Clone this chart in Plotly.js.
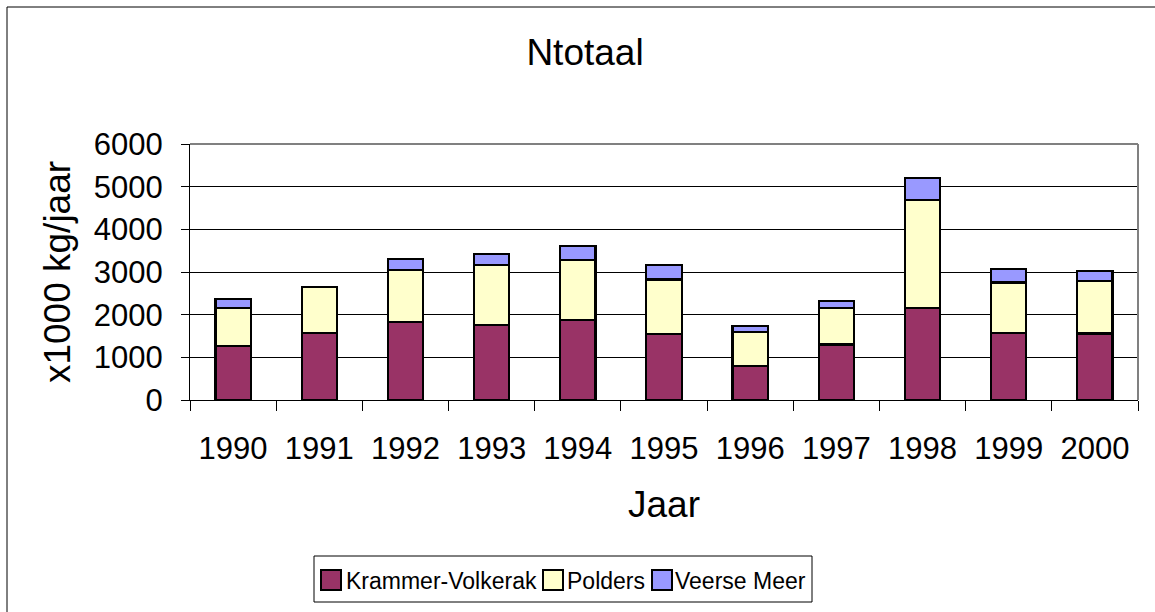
<!DOCTYPE html>
<html>
<head>
<meta charset="utf-8">
<script src="https://cdn.plot.ly/plotly-3.0.1.min.js"></script>
<style>
  html, body { margin: 0; padding: 0; background: #fff; }
  #chart { width: 1155px; height: 612px; }
</style>
</head>
<body>
<div id="chart"></div>
<script>
// Data (x1000 kg/jaar)
const years = ['1990','1991','1992','1993','1994','1995','1996','1997','1998','1999','2000'];
const krammerVolkerak = [1260, 1570, 1820, 1750, 1870, 1550, 790, 1300, 2160, 1565, 1560];
const polders        = [ 900, 1080, 1230, 1420, 1415, 1275, 805,  855, 2520, 1190, 1220];
const veerseMeer     = [ 200,    0,  260,  250,  320,  345, 140,  170,  515,  310,  235];
const seriesNames = ['Krammer-Volkerak', 'Polders', 'Veerse Meer'];
const seriesColors = ['#993366', '#FFFFCC', '#9999FF'];
const yTicks = [0, 1000, 2000, 3000, 4000, 5000, 6000];

const W = 1155, H = 612;
const mL = 190, mR = 17, mT = 144, mB = 212;
const pw = W - mL - mR, ph = H - mT - mB;
const font = 'Liberation Sans, Arial, sans-serif';

function bar(name, vals, color) {
  return {
    type: 'bar', name: name, x: years, y: vals,
    marker: { color: color, line: { color: '#000', width: 2.2 } },
    hoverinfo: 'x+y+name', showlegend: false
  };
}

const data = [
  bar(seriesNames[0], krammerVolkerak, seriesColors[0]),
  bar(seriesNames[1], polders, seriesColors[1]),
  bar(seriesNames[2], veerseMeer, seriesColors[2])
];

// paper coords helpers (pixel -> paper)
const px = v => (v - mL) / pw;
const py = v => (H - mB - v) / ph;

const shapes = [
  // plot-area frame (gray top and right)
  { type: 'line', xref: 'paper', yref: 'paper', x0: 0, x1: 1, y0: 1, y1: 1, line: { color: '#808080', width: 2 } },
  { type: 'line', xref: 'paper', yref: 'paper', x0: 1, x1: 1, y0: 0, y1: 1, line: { color: '#808080', width: 2 } },
  // outer chart frame (left and top)
  { type: 'line', xref: 'paper', yref: 'paper', x0: px(7), x1: px(W + 5), y0: py(7), y1: py(7), line: { color: '#000', width: 1 } },
  { type: 'line', xref: 'paper', yref: 'paper', x0: px(7), x1: px(7), y0: py(7), y1: py(H + 5), line: { color: '#000', width: 1 } },
  // legend box
  { type: 'rect', xref: 'paper', yref: 'paper', x0: px(314), x1: px(812), y0: py(556), y1: py(602),
    line: { color: '#000', width: 1 }, fillcolor: '#fff' }
];
const annotations = [];

// legend entries: swatch left edge and text left edge (pixels)
const legendSwatchX = [321, 543, 652];
const legendTextX = [344, 565, 673];
const legendMidY = 580;
seriesNames.forEach((n, i) => {
  shapes.push({ type: 'rect', xref: 'paper', yref: 'paper',
    x0: px(legendSwatchX[i]), x1: px(legendSwatchX[i] + 20),
    y0: py(legendMidY - 10), y1: py(legendMidY + 10),
    line: { color: '#000', width: 2 }, fillcolor: seriesColors[i] });
  annotations.push({ xref: 'paper', yref: 'paper', x: px(legendTextX[i]), y: py(legendMidY + 1),
    xanchor: 'left', yanchor: 'middle', showarrow: false, text: n,
    font: { family: font, size: 23, color: '#000' } });
});

const layout = {
  width: W, height: H,
  margin: { l: mL, r: mR, t: mT, b: mB, pad: 0 },
  paper_bgcolor: '#fff', plot_bgcolor: '#fff',
  barmode: 'stack', bargap: 0.59,
  font: { family: font, color: '#000' },
  showlegend: false,
  title: {
    text: 'Ntotaal', font: { family: font, size: 37, color: '#000' },
    x: 585 / W, xref: 'container', xanchor: 'center',
    y: 1 - 52 / H, yref: 'container', yanchor: 'middle'
  },
  xaxis: {
    type: 'category',
    tickson: 'boundaries', ticks: 'outside', ticklen: 10, tickwidth: 1, tickcolor: '#000',
    showline: true, linecolor: '#000', linewidth: 1,
    showgrid: false,
    tickfont: { family: font, size: 31, color: '#000' },
    ticklabelstandoff: 21,
    title: { text: 'Jaar', font: { family: font, size: 37, color: '#000' }, standoff: 25 },
    fixedrange: true
  },
  yaxis: {
    range: [0, 6000], tickvals: yTicks, ticktext: yTicks.map(String),
    ticks: 'outside', ticklen: 8, tickwidth: 1, tickcolor: '#000',
    showline: true, linecolor: '#000', linewidth: 1,
    showgrid: true, gridcolor: '#000', gridwidth: 1, zeroline: false,
    tickfont: { family: font, size: 31, color: '#000' },
    ticklabelstandoff: 12,
    title: { text: 'x1000 kg/jaar', font: { family: font, size: 37, color: '#000' }, standoff: 11 },
    fixedrange: true
  },
  shapes: shapes,
  annotations: annotations
};

Plotly.newPlot('chart', data, layout, { displayModeBar: false });
</script>
</body>
</html>
